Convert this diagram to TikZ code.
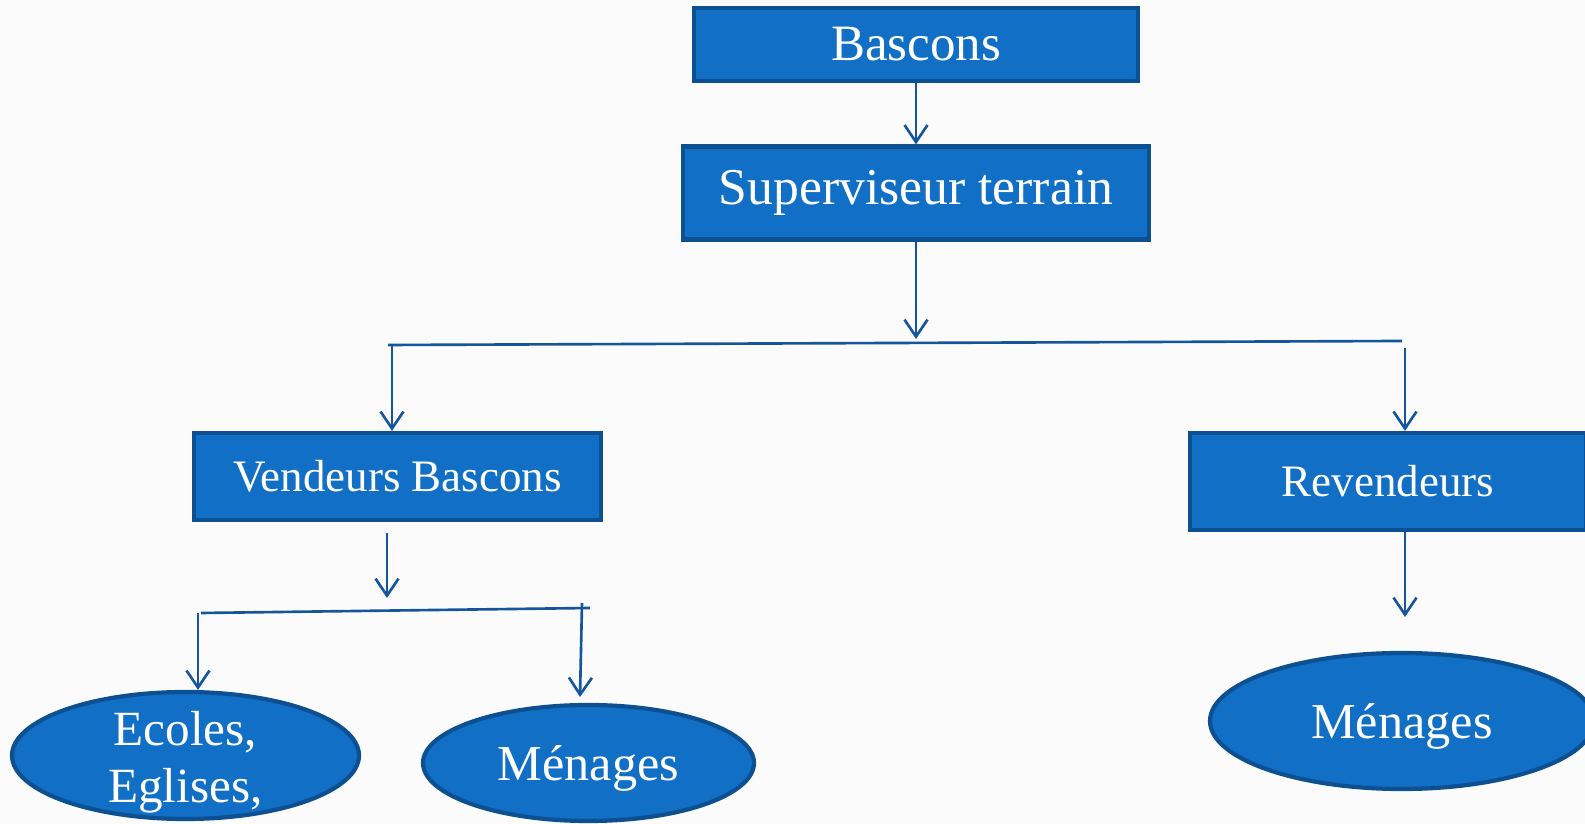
\documentclass[tikz,border=0pt]{standalone}
\usepackage{fontspec}
\setmainfont{Liberation Serif}
\usepackage{tikz}
\usetikzlibrary{shapes.geometric,arrows.meta}

\definecolor{boxblue}{RGB}{17,112,198}
\definecolor{edgeblue}{RGB}{12,80,145}
\definecolor{lineblue}{RGB}{20,85,155}
\definecolor{bgpaper}{RGB}{251,251,251}

\begin{document}
\begin{tikzpicture}[
	box/.style={draw=edgeblue, fill=boxblue, line width=1.2pt, text=white, inner sep=0pt},
	leaf/.style={ellipse, draw=edgeblue, fill=boxblue, line width=1.2pt, text=white, inner sep=0pt, text depth=0pt},
	arr/.style={draw=lineblue, line width=0.75pt, -{Straight Barb[length=1.7mm, width=2.3mm]}},
	bus/.style={draw=lineblue, line width=0.75pt}
	]
	\fill [bgpaper] (0,0) rectangle (15.85,-8.24);
	\useasboundingbox (0,0) rectangle (15.85,-8.24);
	
	\node [box, minimum width=4.44cm, minimum height=0.73cm, font=\fontsize{14.5}{17}\selectfont] (bascons) at (9.16,-0.445) {Bascons};
	\node [box, minimum width=4.66cm, minimum height=0.93cm, font=\fontsize{14.7}{17}\selectfont] (superviseur) at (9.16,-1.93) {Superviseur terrain};
	
	\node [box, minimum width=4.07cm, minimum height=0.87cm, font=\fontsize{12.8}{15}\selectfont] (vendeurs) at (3.975,-4.765) {Vendeurs Bascons};
	\node [box, minimum width=3.96cm, minimum height=0.97cm, font=\fontsize{12.8}{15}\selectfont] (revendeurs) at (13.88,-4.815) {Revendeurs};
	
	\node [leaf, minimum width=3.47cm, minimum height=1.27cm, label={[text=white, align=center, yshift=-0.07cm, font=\fontsize{14}{16.3}\selectfont]center:Ecoles,\\Eglises,}] (ecoles) at (1.855,-7.555) {};
	\node [leaf, minimum width=3.31cm, minimum height=1.16cm, font=\fontsize{14.3}{17}\selectfont] (menagesA) at (5.885,-7.63) {M\'enages};
	\node [leaf, minimum width=3.84cm, minimum height=1.36cm, font=\fontsize{14.3}{17}\selectfont] (menagesB) at (14.02,-7.21) {M\'enages};
	
	% top part
	\coordinate (tTip) at (9.16,-3.39);
	\coordinate (bL) at (3.88,-3.45);
	\coordinate (bR) at (14.02,-3.41);
	\coordinate (lTop) at (3.92,-3.45);
	\coordinate (rTop) at (14.05,-3.48);
	\draw [arr] (bascons) -- (superviseur);
	\draw [arr] (superviseur) -- (tTip);
	\draw [bus] (bL) -- (bR);
	\draw [arr] (lTop) -- (lTop |- vendeurs.north);
	\draw [arr] (rTop) -- (rTop |- revendeurs.north);
	
	% right branch
	\coordinate (rvTip) at (14.05,-6.17);
	\draw [arr] (rTop |- revendeurs.south) -- (rvTip);
	
	% left branch
	\coordinate (vStart) at (3.87,-5.33);
	\coordinate (vTip) at (3.87,-5.98);
	\coordinate (cL) at (2.01,-6.13);
	\coordinate (cR) at (5.90,-6.08);
	\coordinate (eTop) at (1.98,-6.13);
	\coordinate (mTop) at (5.82,-6.03);
	\coordinate (mTip) at (5.80,-6.97);
	\draw [arr] (vStart) -- (vTip);
	\draw [bus] (cL) -- (cR);
	\draw [arr] (eTop) -- (eTop |- ecoles.north);
	\draw [arr] (mTop) -- (mTip);
\end{tikzpicture}
\end{document}
